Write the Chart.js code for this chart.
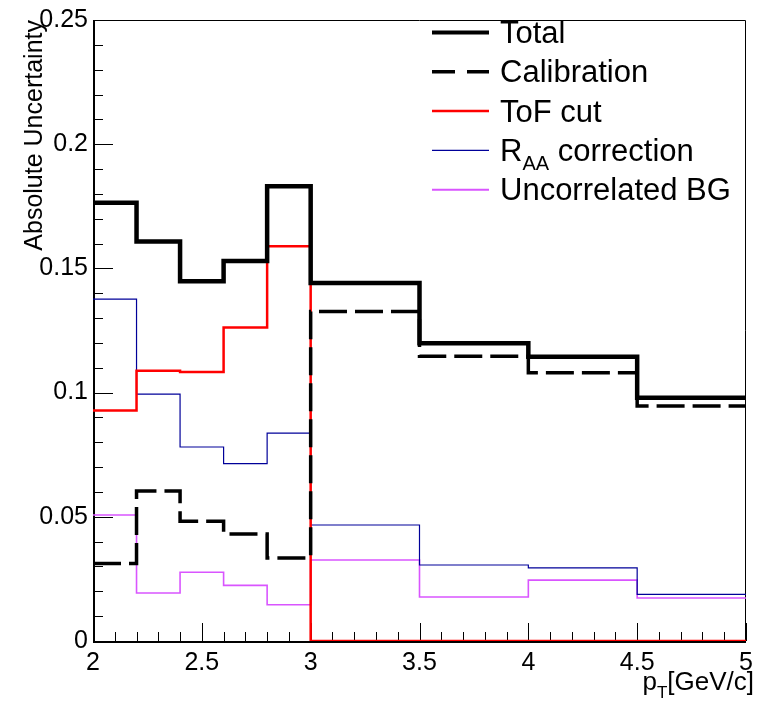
<!DOCTYPE html>
<html>
<head>
<meta charset="utf-8">
<script src="https://cdn.jsdelivr.net/npm/chart.js@4"></script>
<style>
  html, body { margin: 0; padding: 0; background: #fff; }
  canvas { display: block; }
</style>
</head>
<body>
<canvas id="unc" width="784" height="707"></canvas>
<script>
// pT bin edges and the absolute uncertainty in each bin
const binEdges = [2, 2.2, 2.4, 2.6, 2.8, 3, 3.5, 4, 4.5, 5];
const total = [0.1764, 0.1608, 0.1448, 0.1530, 0.1831, 0.1441, 0.1199, 0.1144, 0.0979];
const calibration = [0.0312, 0.0604, 0.0482, 0.0431, 0.0334, 0.1326, 0.1146, 0.1080, 0.0946];
const tofCut = [0.0928, 0.1088, 0.1083, 0.1262, 0.1589, 0, 0, 0, 0];
const raaCorrection = [0.1376, 0.0994, 0.0781, 0.0714, 0.0837, 0.0467, 0.0306, 0.0294, 0.0188];
const uncorrelatedBG = [0.0507, 0.0193, 0.0277, 0.0224, 0.0146, 0.0326, 0.0177, 0.0245, 0.0173];

const seriesLabels = ['Total', 'Calibration', 'ToF cut', 'R_{AA} correction', 'Uncorrelated BG'];
const xTickValues = [2, 2.5, 3, 3.5, 4, 4.5, 5];
const yTickValues = [0, 0.05, 0.1, 0.15, 0.2, 0.25];

const FONT = '"Liberation Sans", Arial, Helvetica, sans-serif';

// histogram outline: one point per left bin edge, last value repeated at the upper edge
function steps(values) {
    return binEdges.map((x, i) => ({ x: x, y: values[Math.min(i, values.length - 1)] }));
}

// draws text where "_{...}" marks a subscript
function drawRich(ctx, text, x, y, size, align) {
    const parts = [];
    const re = /_\{([^}]*)\}/g;
    let last = 0, m;
    while ((m = re.exec(text)) !== null) {
        if (m.index > last) parts.push({ t: text.slice(last, m.index), sub: false });
        parts.push({ t: m[1], sub: true });
        last = re.lastIndex;
    }
    if (last < text.length) parts.push({ t: text.slice(last), sub: false });

    const subSize = Math.round(size * 0.66);
    let width = 0;
    parts.forEach(p => {
        ctx.font = (p.sub ? subSize : size) + 'px ' + FONT;
        p.w = ctx.measureText(p.t).width;
        width += p.w;
    });
    let cx = align === 'right' ? x - width : x;
    ctx.textAlign = 'left';
    ctx.textBaseline = 'alphabetic';
    parts.forEach(p => {
        ctx.font = (p.sub ? subSize : size) + 'px ' + FONT;
        ctx.fillText(p.t, cx, p.sub ? y + size * 0.3 : y);
        cx += p.w;
    });
}

// ROOT style frame with ticks pointing into the pad
const framePlugin = {
    id: 'frame',
    beforeDatasetsDraw(chart) {
        const { ctx, chartArea: a, scales } = chart;
        ctx.save();
        ctx.strokeStyle = '#000';
        ctx.lineWidth = 1;
        ctx.beginPath();
        for (let v = 0; v <= 0.2501; v += 0.01) {
            const y = Math.round(scales.y.getPixelForValue(v)) + 0.5;
            const major = Math.abs(v / 0.05 - Math.round(v / 0.05)) < 1e-6;
            ctx.moveTo(a.left, y);
            ctx.lineTo(a.left + (major ? 20 : 10), y);
        }
        for (let v = 2; v <= 5.0001; v += 0.1) {
            const x = Math.round(scales.x.getPixelForValue(v)) + 0.5;
            const major = Math.abs(v / 0.5 - Math.round(v / 0.5)) < 1e-6;
            ctx.moveTo(x, a.bottom);
            ctx.lineTo(x, a.bottom - (major ? 18 : 9));
        }
        ctx.stroke();

        ctx.beginPath();
        ctx.moveTo(a.left + 0.5, a.top + 0.5);
        ctx.lineTo(a.right - 0.5, a.top + 0.5);
        ctx.lineTo(a.right - 0.5, a.bottom);
        ctx.stroke();
        ctx.lineWidth = 2;
        ctx.beginPath();
        ctx.moveTo(a.left + 1, a.top);
        ctx.lineTo(a.left + 1, a.bottom + 1);
        ctx.lineTo(a.right, a.bottom + 1);
        ctx.stroke();
        ctx.restore();
    },
    afterDraw(chart) {
        const { ctx, chartArea: a } = chart;
        ctx.save();
        ctx.fillStyle = '#000';
        drawRich(ctx, 'p_{T}[GeV/c]', a.right + 8, 690, 26, 'right');

        // legend
        chart.data.datasets.forEach((ds, i) => {
            const base = 43 + i * 39.3;
            const ly = base - 10.5;
            ctx.strokeStyle = ds.borderColor;
            ctx.lineWidth = ds.legendWidth;
            ctx.setLineDash(ds.legendDash || []);
            ctx.beginPath();
            ctx.moveTo(432, ly);
            ctx.lineTo(489, ly);
            ctx.stroke();
            ctx.setLineDash([]);
            ctx.fillStyle = '#000';
            drawRich(ctx, ds.label, 500, base, 31, 'left');
        });
        ctx.restore();
    }
};

const ctx = document.getElementById('unc');
const uncChart = new Chart(ctx, {
    type: 'line',
    data: {
        datasets: [
            {
                label: seriesLabels[0],
                data: steps(total),
                borderColor: '#000000',
                borderWidth: 4.5,
                legendWidth: 4,
            },
            {
                label: seriesLabels[1],
                data: steps(calibration),
                borderColor: '#000000',
                borderWidth: 3.5,
                borderDash: [28, 8],
                legendWidth: 3.5,
                legendDash: [23, 12],
            },
            {
                label: seriesLabels[2],
                data: steps(tofCut),
                borderColor: '#ff0000',
                borderWidth: 2.5,
                legendWidth: 2.5,
            },
            {
                label: seriesLabels[3],
                data: steps(raaCorrection),
                borderColor: '#000099',
                borderWidth: 1.2,
                legendWidth: 1.2,
            },
            {
                label: seriesLabels[4],
                data: steps(uncorrelatedBG),
                borderColor: '#d955ff',
                borderWidth: 1.6,
                legendWidth: 2,
            },
        ]
    },
    options: {
        responsive: false,
        animation: false,
        devicePixelRatio: 1,
        layout: { padding: { left: 0, right: 38, top: 14, bottom: 0 } },
        elements: {
            line: { stepped: true, fill: false, tension: 0, borderJoinStyle: 'miter', borderCapStyle: 'butt' },
            point: { radius: 0, hoverRadius: 0 }
        },
        plugins: {
            legend: { display: false },
            tooltip: { enabled: false }
        },
        scales: {
            x: {
                type: 'linear',
                min: 2,
                max: 5,
                afterFit: s => { s.height = 66; },
                afterBuildTicks: s => { s.ticks = xTickValues.map(v => ({ value: v })); },
                grid: { display: false, drawTicks: false },
                border: { display: false },
                ticks: {
                    padding: 7,
                    color: '#000',
                    maxRotation: 0,
                    autoSkip: false,
                    font: { family: FONT, size: 25 },
                    callback: v => String(+v.toFixed(1))
                }
            },
            y: {
                min: 0,
                max: 0.25,
                afterFit: s => { s.width = 93; },
                afterBuildTicks: s => { s.ticks = yTickValues.map(v => ({ value: v })); },
                grid: { display: false, drawTicks: false },
                border: { display: false },
                ticks: {
                    padding: 5,
                    color: '#000',
                    autoSkip: false,
                    font: { family: FONT, size: 25 },
                    callback: v => String(+v.toFixed(2))
                },
                title: {
                    display: true,
                    text: 'Absolute Uncertainty',
                    align: 'end',
                    color: '#000',
                    font: { family: FONT, size: 25 },
                    padding: { top: 20, bottom: 0 }
                }
            }
        }
    },
    plugins: [framePlugin]
});
</script>
</body>
</html>
